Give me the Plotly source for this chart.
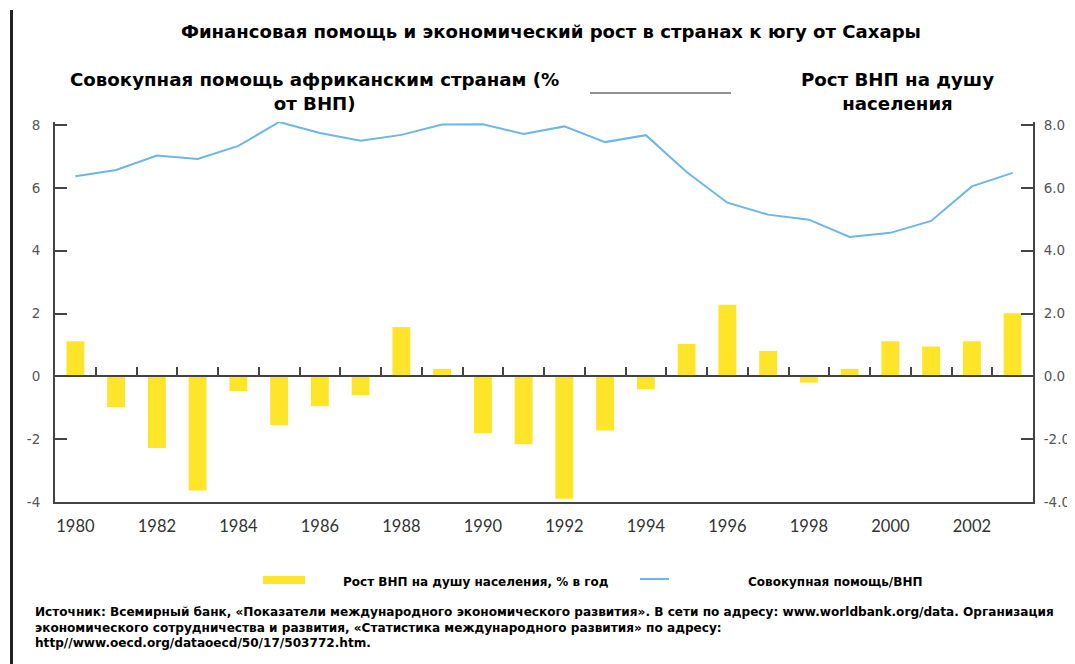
import plotly.graph_objects as go

years = list(range(1980, 2004))
gnp_growth = [1.12, -0.98, -2.28, -3.63, -0.47, -1.55, -0.95, -0.60, 1.57, 0.24,
              -1.81, -2.16, -3.90, -1.72, -0.41, 1.03, 2.28, 0.81, -0.20, 0.24,
              1.12, 0.95, 1.12, 2.01]
aid_gnp = [6.37, 6.57, 7.03, 6.92, 7.34, 8.10, 7.75, 7.50, 7.69, 8.02,
           8.03, 7.72, 7.96, 7.46, 7.68, 6.51, 5.53, 5.15, 4.99, 4.44,
           4.57, 4.95, 6.05, 6.48]
xtick_years = list(range(1980, 2003, 2))
ytick_vals = [-4, -2, 0, 2, 4, 6, 8]

title = "Финансовая помощь и экономический рост в странах к югу от Сахары"
left_sub = "Совокупная помощь африканским странам (%<br>от ВНП)"
right_sub = "Рост ВНП на душу<br>населения"
leg_bar = "Рост ВНП на душу населения, % в год"
leg_line = "Совокупная помощь/ВНП"
source = ("Источник: Всемирный банк, «Показатели международного экономического развития». В сети по адресу: www.worldbank.org/data. Организация<br>"
          "экономического сотрудничества и развития, «Статистика международного развития» по адресу:<br>"
          "http//www.oecd.org/dataoecd/50/17/503772.htm.")

BAR_COLOR = "#FFE52A"
LINE_COLOR = "#6DB6E6"
AXIS_COLOR = "#444444"
BOLD_FONT = "DejaVu Sans"

# page offset (browser body margin)
OFF = 8
FIG_W, FIG_H = 1075 - OFF, 664 - OFF
# plot area in page pixels
L, R, T, B = 55, 1033, 122, 502
W, H = R - L, B - T
def px(x):
    return (x - L) / W
def py(y):
    return (B - y) / H

yr = [-4, 8.1]
xr = [years[0] - 0.5, years[-1] + 0.5]

fig = go.Figure()
fig.add_trace(go.Bar(x=years, y=gnp_growth, width=0.44, marker=dict(color=BAR_COLOR, line=dict(width=0)),
                     name=leg_bar, showlegend=False, xaxis="x", yaxis="y"))
fig.add_trace(go.Scatter(x=years, y=aid_gnp, mode="lines", line=dict(color=LINE_COLOR, width=2),
                         name=leg_line, showlegend=False, xaxis="x2", yaxis="y2"))

tickfont = dict(family="DejaVu Sans", size=13.5, color="#555555")
fig.update_layout(
    width=FIG_W, height=FIG_H,
    margin=dict(l=L - OFF, r=FIG_W - (R - OFF), t=T - OFF, b=FIG_H - (B - OFF), pad=0),
    paper_bgcolor="white", plot_bgcolor="white",
    showlegend=False,
    xaxis=dict(range=xr, showline=True, linecolor=AXIS_COLOR, linewidth=2, mirror=False,
               tickvals=xtick_years, ticks="", showgrid=False, zeroline=False, automargin=False,
               ticklabelstandoff=8,
               tickfont=dict(family="Lato", size=16.5, color="#333333")),
    xaxis2=dict(range=xr, overlaying="x", anchor="free", side="top",
                position=(0 - yr[0]) / (yr[1] - yr[0]), automargin=False,
                showline=True, linecolor=AXIS_COLOR, linewidth=2,
                tickvals=[y + 0.5 for y in years[:-1]], ticks="outside", ticklen=8,
                tickwidth=2, tickcolor=AXIS_COLOR, showticklabels=False, showgrid=False, zeroline=False),
    yaxis=dict(range=yr, showline=True, linecolor=AXIS_COLOR, linewidth=2, tickvals=ytick_vals,
               ticktext=[f"{v}" for v in ytick_vals], automargin=False,
               ticks="inside", ticklen=12, tickwidth=2, tickcolor=AXIS_COLOR, showgrid=False,
               zeroline=False, tickfont=tickfont, ticklabelstandoff=10),
    yaxis2=dict(range=yr, overlaying="y", side="right", showline=True, linecolor=AXIS_COLOR,
                linewidth=2, tickvals=ytick_vals, ticktext=[f"{v:.1f}" for v in ytick_vals],
                automargin=False, ticks="inside", ticklen=12,
                tickwidth=2, tickcolor=AXIS_COLOR, showgrid=False, zeroline=False, tickfont=tickfont,
                ticklabelstandoff=6),
)

ann = []
def text(x, y, s, size, xanchor="center", align="center", yanchor="middle"):
    ann.append(dict(x=px(x), y=py(y), xref="paper", yref="paper", text=s, showarrow=False,
                    xanchor=xanchor, yanchor=yanchor, align=align,
                    font=dict(family=BOLD_FONT, size=size, color="black", weight="bold")))

text(551, 31, title, 18.1)
text(314, 91, left_sub, 18.2)
text(897, 91, right_sub, 18.2)
text(341, 582, leg_bar, 12.0, xanchor="left", align="left")
text(746, 582, leg_line, 12.0, xanchor="left", align="left")
text(33, 603, source, 12.1, xanchor="left", align="left", yanchor="top")
fig.update_layout(annotations=ann)

shapes = [
    dict(type="line", xref="paper", yref="paper", x0=px(11.5), x1=px(11.5), y0=py(10), y1=py(664),
         line=dict(color="#222222", width=3)),
    dict(type="line", xref="paper", yref="paper", x0=px(590), x1=px(731), y0=py(93), y1=py(93),
         line=dict(color="#222222", width=1)),
    dict(type="rect", xref="paper", yref="paper", x0=px(263), x1=px(305), y0=py(576), y1=py(584),
         fillcolor=BAR_COLOR, line=dict(width=0)),
    dict(type="line", xref="paper", yref="paper", x0=px(640), x1=px(669), y0=py(579), y1=py(579),
         line=dict(color=LINE_COLOR, width=2)),
]
fig.update_layout(shapes=shapes)

fig.write_html("out.html")
